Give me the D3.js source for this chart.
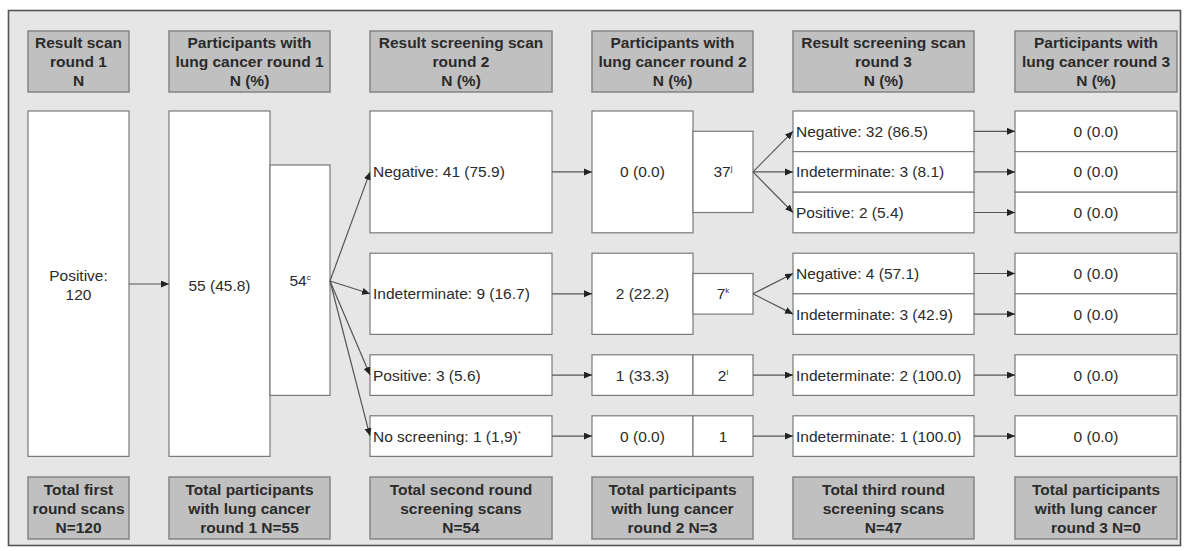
<!DOCTYPE html>
<meta charset="utf-8">
<script src="https://d3js.org/d3.v7.min.js"></script>
<style>
body { margin: 0; background: #fff; }
text { font-family: "Liberation Sans", Arial, sans-serif; fill: #2b2b2b; }
.head text { font-weight: bold; font-size: 15.5px; }
.box { fill: #fff; stroke: #7a7a7a; stroke-width: 1.2px; }
.hbox { fill: #c0c0c0; stroke: #858585; stroke-width: 1.5px; }
.body text { font-size: 15.5px; }
.link { stroke: #555; stroke-width: 1.2px; fill: none; }
</style>
<body></body>
<script>

// ---- data ----
var headers = [
  ["Result scan", "round 1", "N"],
  ["Participants with", "lung cancer round 1", "N (%)"],
  ["Result screening scan", "round 2", "N (%)"],
  ["Participants with", "lung cancer round 2", "N (%)"],
  ["Result screening scan", "round 3", "N (%)"],
  ["Participants with", "lung cancer round 3", "N (%)"]
];
var footers = [
  ["Total first", "round scans", "N=120"],
  ["Total participants", "with lung cancer", "round 1 N=55"],
  ["Total second round", "screening scans", "N=54"],
  ["Total participants", "with lung cancer", "round 2 N=3"],
  ["Total third round", "screening scans", "N=47"],
  ["Total participants", "with lung cancer", "round 3 N=0"]
];

var round1 = {label: "Positive:", n: 120};
var cancer1 = {n: 55, pct: "45.8", rest: 54, sup: "c"};

var round2Labels = ["Negative", "Indeterminate", "Positive", "No screening"];
var round2N = [41, 9, 3, 1];
var round2Pct = ["75.9", "16.7", "5.6", "1,9"];
var round2Sup = ["", "", "", "*"];

var cancer2N = [0, 2, 1, 0];
var cancer2Pct = ["0.0", "22.2", "33.3", "0.0"];
var cancer2Rest = [37, 7, 2, 1];
var cancer2Sup = ["j", "k", "l", ""];

var round3 = [
  [{label: "Negative", n: 32, pct: "86.5"}, {label: "Indeterminate", n: 3, pct: "8.1"}, {label: "Positive", n: 2, pct: "5.4"}],
  [{label: "Negative", n: 4, pct: "57.1"}, {label: "Indeterminate", n: 3, pct: "42.9"}],
  [{label: "Indeterminate", n: 2, pct: "100.0"}],
  [{label: "Indeterminate", n: 1, pct: "100.0"}]
];
var cancer3N = [[0, 0, 0], [0, 0], [0], [0]];
var cancer3Pct = [["0.0", "0.0", "0.0"], ["0.0", "0.0"], ["0.0"], ["0.0"]];

// ---- layout ----
var W = 1184, H = 551;
var cols = [{x: 28, w: 101}, {x: 169, w: 161}, {x: 370, w: 182}, {x: 592, w: 161}, {x: 793, w: 181}, {x: 1015, w: 162}];
var splitW = 101;          // left part of the split columns
var headTop = 31, headH = 61, footTop = 477, footH = 62;
var bodyTop = 111, slotH = 40.6, gapH = 20.4;

var svg = d3.select("body").append("svg").attr("width", W).attr("height", H);

svg.append("defs").append("marker")
  .attr("id", "arr").attr("markerUnits", "userSpaceOnUse")
  .attr("markerWidth", 9).attr("markerHeight", 8)
  .attr("refX", 8).attr("refY", 3.5).attr("orient", "auto")
  .append("path").attr("d", "M0,0L8,3.5L0,7Z").attr("fill", "#222");

svg.append("rect").attr("x", 8.5).attr("y", 10.5).attr("width", 1172).attr("height", 535)
  .attr("fill", "#e6e6e6").attr("stroke", "#555").attr("stroke-width", 1.6);

// slot scale -> pixels; groups add a gap each
var slotCounts = round3.map(d => d.length);
var slotStart = [];
slotCounts.reduce((a, c, i) => { slotStart[i] = a; return a + c; }, 0);
var yScale = d3.scaleLinear().domain([0, 1]).range([bodyTop, bodyTop + slotH]);
function gy(slot, g) { return yScale(slot) + g * gapH; }
var groups = slotCounts.map((c, i) => ({top: gy(slotStart[i], i), bot: gy(slotStart[i] + c, i), n: c}));
groups.forEach(g => g.mid = (g.top + g.bot) / 2);
var bodyBot = groups[groups.length - 1].bot;

// header / footer boxes
function labelBoxes(rows, top, h, cls) {
  var g = svg.append("g").attr("class", "head " + cls);
  rows.forEach(function(lines, i) {
    var c = cols[i];
    g.append("rect").attr("class", "hbox").attr("x", c.x).attr("y", top).attr("width", c.w).attr("height", h);
    g.selectAll(null).data(lines).enter().append("text")
      .attr("x", c.x + c.w / 2)
      .attr("y", (d, j) => top + h / 2 + (j - 1) * 19 + 5.5)
      .attr("text-anchor", "middle")
      .text(d => d);
  });
}
labelBoxes(headers, headTop, headH, "top");
labelBoxes(footers, footTop, footH, "bottom");

var body = svg.append("g").attr("class", "body");
var links = svg.append("g");

function box(x, y, w, h) {
  body.append("rect").attr("class", "box").attr("x", x).attr("y", y).attr("width", w).attr("height", h);
}
function label(x, y, str, anchor, sup) {
  var t = body.append("text").attr("x", x).attr("y", y + 5.5).attr("text-anchor", anchor || "middle");
  t.append("tspan").text(str);
  if (sup) t.append("tspan").attr("dy", -6).attr("font-size", 8).text(sup);
}
function arrow(x1, y1, x2, y2) {
  links.append("line").attr("class", "link")
    .attr("x1", x1).attr("y1", y1).attr("x2", x2).attr("y2", y2)
    .attr("marker-end", "url(#arr)");
}

// column 1
var c0 = cols[0];
box(c0.x, bodyTop, c0.w, bodyBot - bodyTop);
label(c0.x + c0.w / 2, 275, round1.label);
label(c0.x + c0.w / 2, 294, String(round1.n));

// column 2
var c1 = cols[1];
box(c1.x, bodyTop, splitW, bodyBot - bodyTop);
var restTop = 165, restBot = groups[2].bot;
box(c1.x + splitW, restTop, c1.w - splitW, restBot - restTop);
label(c1.x + splitW / 2, 285, cancer1.n + " (" + cancer1.pct + ")");
label(c1.x + splitW + (c1.w - splitW) / 2, 280, String(cancer1.rest), "middle", cancer1.sup);
arrow(c0.x + c0.w, 284, c1.x, 284);

// column 3 and 4
var c2 = cols[2], c3 = cols[3], c4 = cols[4], c5 = cols[5];
groups.forEach(function(g, i) {
  box(c2.x, g.top, c2.w, g.bot - g.top);
  label(c2.x + 3, g.mid, round2Labels[i] + ": " + round2N[i] + " (" + round2Pct[i] + ")", "start", round2Sup[i]);
  arrow(c1.x + c1.w, 281, c2.x, g.mid);

  box(c3.x, g.top, splitW, g.bot - g.top);
  var inset = g.n > 1 ? slotH / 2 : 0;
  box(c3.x + splitW, g.top + inset, c3.w - splitW, g.bot - g.top - 2 * inset);
  label(c3.x + splitW / 2, g.mid, cancer2N[i] + " (" + cancer2Pct[i] + ")");
  label(c3.x + splitW + (c3.w - splitW) / 2, g.mid, String(cancer2Rest[i]), "middle", cancer2Sup[i]);
  arrow(c2.x + c2.w, g.mid, c3.x, g.mid);

  // column 5 and 6
  round3[i].forEach(function(r, k) {
    var top = gy(slotStart[i] + k, i), bot = gy(slotStart[i] + k + 1, i), mid = (top + bot) / 2;
    box(c4.x, top, c4.w, bot - top);
    label(c4.x + 3, mid, r.label + ": " + r.n + " (" + r.pct + ")", "start");
    box(c5.x, top, c5.w, bot - top);
    label(c5.x + c5.w / 2, mid, cancer3N[i][k] + " (" + cancer3Pct[i][k] + ")");
    arrow(c3.x + c3.w, g.mid, c4.x, mid);
    arrow(c4.x + c4.w, mid, c5.x, mid);
  });
});

</script>
